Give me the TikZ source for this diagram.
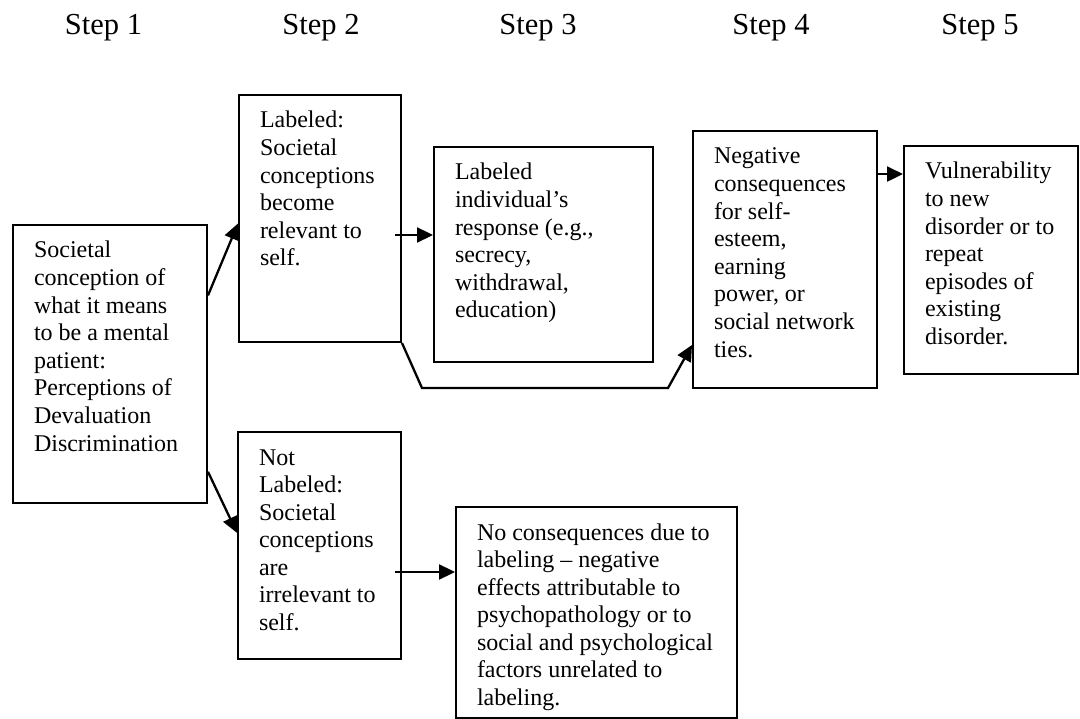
\documentclass[tikz,border=0pt]{standalone}
\usepackage{fontspec}
\setmainfont{Liberation Serif}
\usetikzlibrary{arrows.meta,calc}
\tikzstyle{stage} = [
		draw = black,
		line width = 2pt,
		inner sep = 0pt,
		anchor = north west,
		font = \fontsize{24}{27.6}\selectfont
	]
\tikzstyle{steplabel} = [
		anchor = base,
		inner sep = 0pt,
		font = \fontsize{30.5}{36}\selectfont
	]
\tikzstyle{link} = [
		line width = 2.3pt,
		-{Triangle[length=16pt,width=15pt]}
	]
\newcommand{\stagetext}[3]{\parbox[t][#2pt][t]{#1pt}{\raggedright\leftskip=21pt\rule{0pt}{33pt}#3}}

\begin{document}
\begin{tikzpicture}[x = 1pt, y = -1pt]

		\useasboundingbox (0,0) rectangle (1080,719);

		%------------------------------Steps------------------------------
		\foreach \n/\x in {1/103.5, 2/321, 3/538, 4/771, 5/980}
			\node [steplabel] (step\n) at (\x,35) {Step \n};

		%------------------------------Chart------------------------------
		\node [stage] (soc) at (12,224) {\stagetext{194}{278}{Societal\\ conception of\\ what it means\\ to be a mental\\ patient:\\ Perceptions of\\ Devaluation\\ Discrimination}};
		\node [stage] (lab) at (238,94) {\stagetext{162}{247}{Labeled:\\ Societal\\ conceptions\\ become\\ relevant to\\ self.}};
		\node [stage] (resp) at (433,146) {\stagetext{219}{215}{Labeled\\ individual’s\\ response (e.g.,\\ secrecy,\\ withdrawal,\\ education)}};
		\node [stage] (neg) at (692,130) {\stagetext{184}{257}{Negative\\ consequences\\ for self-\\ esteem,\\ earning\\ power, or\\ social network\\ ties.}};
		\node [stage] (vul) at (903,145) {\stagetext{174}{228}{Vulnerability\\ to new\\ disorder or to\\ repeat\\ episodes of\\ existing\\ disorder.}};
		\node [stage] (notlab) at (237,431) {\stagetext{163}{227}{Not\\ Labeled:\\ Societal\\ conceptions\\ are\\ irrelevant to\\ self.}};
		\node [stage] (nocons) at (455,506) {\stagetext{281}{211}{No consequences due to\\ labeling – negative\\ effects attributable to\\ psychopathology or to\\ social and psychological\\ factors unrelated to\\ labeling.}};

		%------------------------------Links------------------------------
		\draw [link] ($(soc.north east)!0.255!(soc.south east)$) -- ($(lab.north west)!0.52!(lab.south west)$);
		\draw [link] ($(soc.north east)!0.885!(soc.south east)$) -- ($(notlab.north west)!0.445!(notlab.south west)$);
		\coordinate (labout) at (395,235);
		\draw [link] (labout) -- (labout -| resp.west);
		\draw [link] (lab.south east) -- ++(20,45) -- ++(246,0) -- ($(neg.north west)!0.83!(neg.south west)$);
		\coordinate (negout) at ($(neg.north east)!0.17!(neg.south east)$);
		\draw [link] (negout) -- (negout -| vul.west);
		\coordinate (notout) at (395,572);
		\draw [link] (notout) -- (notout -| nocons.west);

\end{tikzpicture}
\end{document}
